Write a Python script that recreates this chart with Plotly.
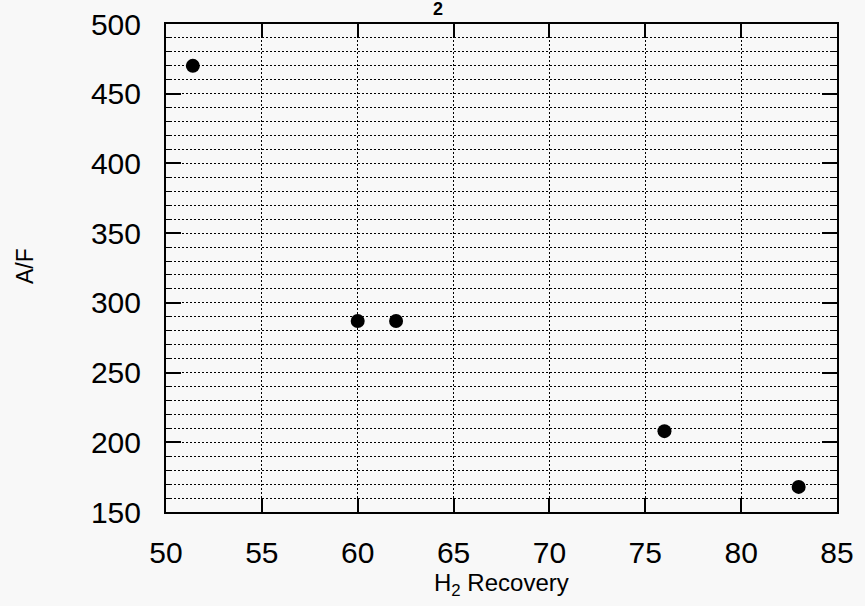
import plotly.graph_objects as go

h2_recovery = [51.4, 60.0, 62.0, 76.0, 83.0]
af_ratio = [470, 287, 287, 208, 168]

x_ticks = [50, 55, 60, 65, 70, 75, 80, 85]
y_ticks = [150, 200, 250, 300, 350, 400, 450, 500]

FONT = "Liberation Sans, Arial, sans-serif"

fig = go.Figure()
fig.add_trace(go.Scatter(
    x=h2_recovery, y=af_ratio, mode="markers",
    marker=dict(color="black", size=14, line=dict(width=0)),
    showlegend=False, cliponaxis=False,
))

fig.update_layout(
    width=865, height=606,
    margin=dict(l=166, r=28, t=24, b=94, autoexpand=False),
    paper_bgcolor="#f8f8f8", plot_bgcolor="#f8f8f8",
    font=dict(family=FONT, color="black"),
    annotations=[
        dict(text="<b>2</b>", x=0.405, y=1.0, xref="paper", yref="paper",
             yshift=15, showarrow=False, font=dict(size=18, family=FONT, color="black"),
             xanchor="center", yanchor="middle"),
        dict(text="H<sub>2</sub> Recovery", x=0.5, y=0, xref="paper", yref="paper",
             yshift=-55, showarrow=False, font=dict(size=24, family=FONT, color="black"),
             xanchor="center", yanchor="top"),
        dict(text="A/F", x=0, y=0.504, xref="paper", yref="paper", xshift=-141,
             textangle=-90, showarrow=False, font=dict(size=23, family=FONT, color="black"),
             xanchor="center", yanchor="middle"),
    ],
)

GRID_DASH = "2px,2px"

fig.update_xaxes(
    range=[50, 85], tickvals=x_ticks, ticktext=[str(v) for v in x_ticks],
    showline=True, linecolor="black", linewidth=2, mirror="allticks",
    ticks="inside", ticklen=14, tickwidth=2, tickcolor="black",
    showgrid=True, gridcolor="black", gridwidth=1.3, griddash=GRID_DASH,
    zeroline=False, tickfont=dict(size=30, family=FONT, color="black"),
    ticklabelstandoff=13, automargin=False, ticklabeloverflow="allow",
)

fig.update_yaxes(
    range=[150, 500], tickvals=y_ticks, ticktext=[str(v) for v in y_ticks],
    showline=True, linecolor="black", linewidth=2, mirror="allticks",
    ticks="inside", ticklen=15, tickwidth=2, tickcolor="black",
    showgrid=True, gridcolor="black", gridwidth=1.3, griddash=GRID_DASH,
    minor=dict(dtick=10, ticks="inside", ticklen=5, tickwidth=1, tickcolor="black",
               showgrid=True, gridcolor="black", gridwidth=1.3, griddash=GRID_DASH),
    zeroline=False, tickfont=dict(size=30, family=FONT, color="black"),
    ticklabelstandoff=17, automargin=False, ticklabeloverflow="allow",
)

fig.write_html(
    "out.html",
    config={"displayModeBar": False},
    post_script="document.body.style.margin='0';document.body.style.overflow='hidden';",
)
